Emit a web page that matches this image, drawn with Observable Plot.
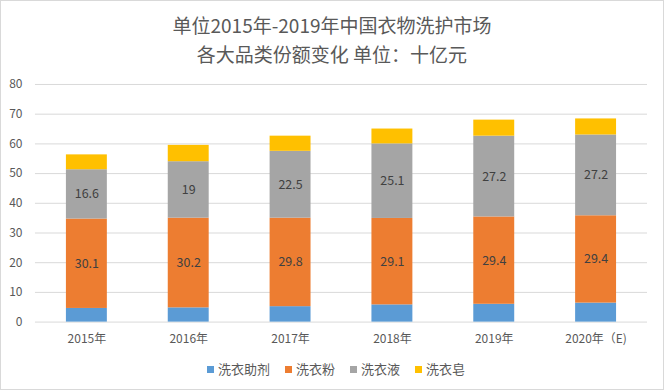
<!DOCTYPE html>
<html>
<head>
<meta charset="utf-8">
<script src="https://cdn.jsdelivr.net/npm/d3@7"></script>
<script src="https://cdn.jsdelivr.net/npm/@observablehq/plot@0.6"></script>
<style>
  html, body { margin: 0; padding: 0; background: #fff; }
  #wrap { position: relative; width: 662px; height: 388px; border: 1px solid #d9d9d9; overflow: hidden;
          font-family: "Noto Sans CJK SC", "Noto Sans", sans-serif; }
  #title { position: absolute; left: 0; top: 9px; width: 100%; text-align: center; color: #595959;
           font-size: 19px; line-height: 29px; }
  #chart { position: absolute; left: -1px; top: 69px; }
  #legend { position: absolute; left: 4px; top: 359px; width: 100%; display: flex; justify-content: center;
            gap: 15px; font-size: 13px; line-height: 18px; color: #595959; }
  #legend span.item { display: flex; align-items: center; }
  #legend span.sw { display: inline-block; width: 7px; height: 7px; margin-right: 4px; }
</style>
</head>
<body>
<div id="wrap">
  <div id="title">单位2015年-2019年中国衣物洗护市场<br>各大品类份额变化 单位：十亿元</div>
  <div id="chart"></div>
  <div id="legend"></div>
</div>
<script>
const years = ["2015年", "2016年", "2017年", "2018年", "2019年", "2020年（E)"];
const seriesNames = ["洗衣助剂", "洗衣粉", "洗衣液", "洗衣皂"];
const helper = [4.6, 4.8, 5.2, 5.8, 6.0, 6.4];
const powder = [30.1, 30.2, 29.8, 29.1, 29.4, 29.4];
const liquid = [16.6, 19, 22.5, 25.1, 27.2, 27.2];
const soap = [5.0, 5.5, 5.1, 5.0, 5.4, 5.4];
const yTicks = [0, 10, 20, 30, 40, 50, 60, 70, 80];
const colors = ["#5b9bd5", "#ed7d31", "#a5a5a5", "#ffc000"];
const labeled = ["洗衣粉", "洗衣液"];

const seriesValues = [helper, powder, liquid, soap];
const data = [];
years.forEach((y, i) => {
  seriesNames.forEach((s, j) => data.push({year: y, series: s, value: seriesValues[j][i]}));
});

const plot = Plot.plot({
  width: 664,
  height: 282,
  marginTop: 14,
  marginLeft: 35,
  marginRight: 16,
  marginBottom: 30,
  style: {fontFamily: "'Noto Sans CJK SC', sans-serif", fontSize: "12px", color: "#595959", background: "transparent"},
  x: {domain: years, paddingInner: 0.6, paddingOuter: 0.3, label: null},
  y: {domain: [0, 80], label: null},
  color: {domain: seriesNames, range: colors},
  marks: [
    Plot.gridY(yTicks, {stroke: "#d9d9d9", strokeOpacity: 1, strokeWidth: 1}),
    Plot.barY(data, Plot.stackY({x: "year", y: "value", fill: "series"})),
    Plot.text(data, Plot.stackY({x: "year", y: "value", z: "series",
      text: d => labeled.includes(d.series) ? String(d.value) : null,
      fill: "#404040", fontSize: 12.5})),
    Plot.axisX({tickSize: 0, tickPadding: 12, fill: "#595959"}),
    Plot.axisY(yTicks, {tickSize: 0, tickPadding: 13, fill: "#595959"})
  ]
});
document.getElementById("chart").appendChild(plot);

const legend = document.getElementById("legend");
seriesNames.forEach((s, i) => {
  const item = document.createElement("span");
  item.className = "item";
  item.innerHTML = `<span class="sw" style="background:${colors[i]}"></span>${s}`;
  legend.appendChild(item);
});
</script>
</body>
</html>
